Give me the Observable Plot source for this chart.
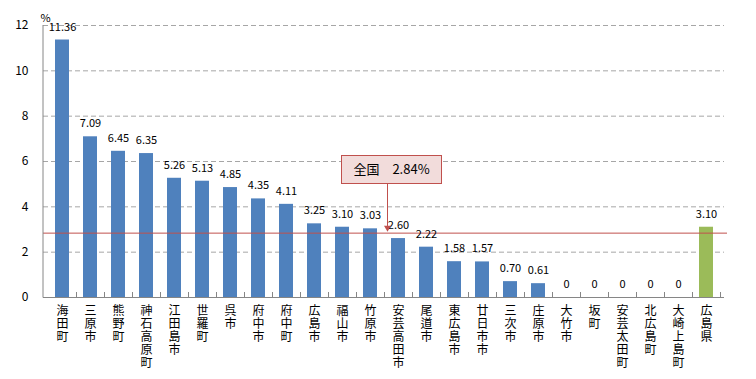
<!DOCTYPE html>
<html><head><meta charset="utf-8">
<script src="https://cdn.jsdelivr.net/npm/d3@7"></script>
<script src="https://cdn.jsdelivr.net/npm/@observablehq/plot@0.6"></script>
<style>body{margin:0;background:#fff}</style>
</head><body><div id="chart"></div>
<script>
const categories = ["海田町","三原市","熊野町","神石高原町","江田島市","世羅町","呉市","府中市","府中町","広島市","福山市","竹原市","安芸高田市","尾道市","東広島市","廿日市市","三次市","庄原市","大竹市","坂町","安芸太田町","北広島町","大崎上島町","広島県"];
const values = [11.36,7.09,6.45,6.35,5.26,5.13,4.85,4.35,4.11,3.25,3.10,3.03,2.60,2.22,1.58,1.57,0.70,0.61,0,0,0,0,0,3.10];
const highlight = "広島県";
const nationalLabel = "全国";
const nationalValue = 2.84;
const yTicks = [0,2,4,6,8,10,12];
const unitLabel = "%";

const data = categories.map((c, i) => ({name: c, value: values[i]}));
const font = "'Noto Sans CJK JP', sans-serif";
const labelFont = "'Noto Sans CJK KR', 'Noto Sans CJK JP', sans-serif";

// decorations: axis lines and ticks between bands
const decorations = (index, scales, vals, dims) => {
  const x = scales.x, y = scales.y;
  const dom = x.domain();
  const step = x(dom[1]) - x(dom[0]);
  const bw = x.bandwidth ? x.bandwidth() : step / 2;
  const g = d3.create("svg:g").attr("stroke", "#868686").attr("fill", "none");
  const y0 = y(0);
  const left = dims.marginLeft, right = dims.width - dims.marginRight;
  g.append("line").attr("x1", left).attr("x2", left).attr("y1", dims.marginTop).attr("y2", y0 + 0.5);
  g.append("line").attr("x1", left).attr("x2", right).attr("y1", y0 + 0.5).attr("y2", y0 + 0.5);
  dom.forEach(d => {
    const bx = Math.round(x(d) + bw / 2 + step / 2) + 0.5;
    g.append("line").attr("x1", bx).attr("x2", bx).attr("y1", y0).attr("y2", y0 - 5);
  });
  return g.node();
};

// annotation for national average
const annotation = (index, scales, vals, dims) => {
  const x = scales.x, y = scales.y;
  const bw = x.bandwidth ? x.bandwidth() : 14;
  const ax = Math.round(x("安芸高田市") + bw / 2 - 11) + 0.5;
  const top = Math.round(y(6.26)) + 0.5, bottom = Math.round(y(5.04)) + 0.5;
  const tip = y(nationalValue) - 1;
  const g = d3.create("svg:g");
  g.append("line").attr("x1", ax).attr("x2", ax).attr("y1", bottom).attr("y2", tip - 5)
    .attr("stroke", "#c0504d").attr("stroke-width", 1);
  g.append("path").attr("d", `M${ax - 3.5},${tip - 6}L${ax + 3.5},${tip - 6}L${ax},${tip}Z`).attr("fill", "#c0504d");
  g.append("rect").attr("x", ax - 46).attr("y", top).attr("width", 100).attr("height", bottom - top)
    .attr("fill", "#f2dcdb").attr("stroke", "#c0504d");
  g.append("text").attr("x", ax + 4).attr("y", (top + bottom) / 2).attr("dy", "0.35em")
    .attr("text-anchor", "middle").attr("font-size", 13).attr("fill", "#000")
    .attr("font-family", font)
    .text(`${nationalLabel}\u3000${nationalValue.toFixed(2)}%`);
  return g.node();
};

const chart = Plot.plot({
  width: 756,
  height: 379,
  marginLeft: 43,
  marginRight: 32,
  marginTop: 25,
  marginBottom: 82,
  style: {fontFamily: font, fontSize: "12px", color: "#000", background: "#fff"},
  x: {domain: categories, paddingInner: 0.5, paddingOuter: 0.25, label: null},
  y: {domain: [0, 12], label: null},
  marks: [
    Plot.gridY(yTicks.filter(v => v > 0), {stroke: "#a6a6a6", strokeOpacity: 1, strokeDasharray: "5,3"}),
    Plot.axisY(yTicks, {tickSize: 0, tickPadding: 15, fontSize: 12, label: null}),
    Plot.axisX({tickSize: 0, tickPadding: 8, fontSize: 12, lineHeight: 1.08, label: null, fill: "#000",
      fontFamily: labelFont, tickFormat: d => d.split("").join("\n")}),
    Plot.barY(data.filter(d => d.name !== highlight), {x: "name", y: "value", fill: "#4f81bd"}),
    Plot.barY(data.filter(d => d.name === highlight), {x: "name", y: "value", fill: "#9bbb59"}),
    Plot.ruleY([nationalValue], {stroke: "#c0504d", strokeWidth: 1, insetRight: -3}),
    decorations,
    Plot.text(data, {x: "name", y: "value", text: d => d.value === 0 ? "0" : d.value.toFixed(2), dy: -13, fontSize: 11, fill: "#000"}),
    Plot.text([unitLabel], {frameAnchor: "top-left", dx: -3, dy: -11, fontSize: 11, fill: "#000"}),
    annotation
  ]
});
document.getElementById("chart").appendChild(chart);
</script>
</body></html>
